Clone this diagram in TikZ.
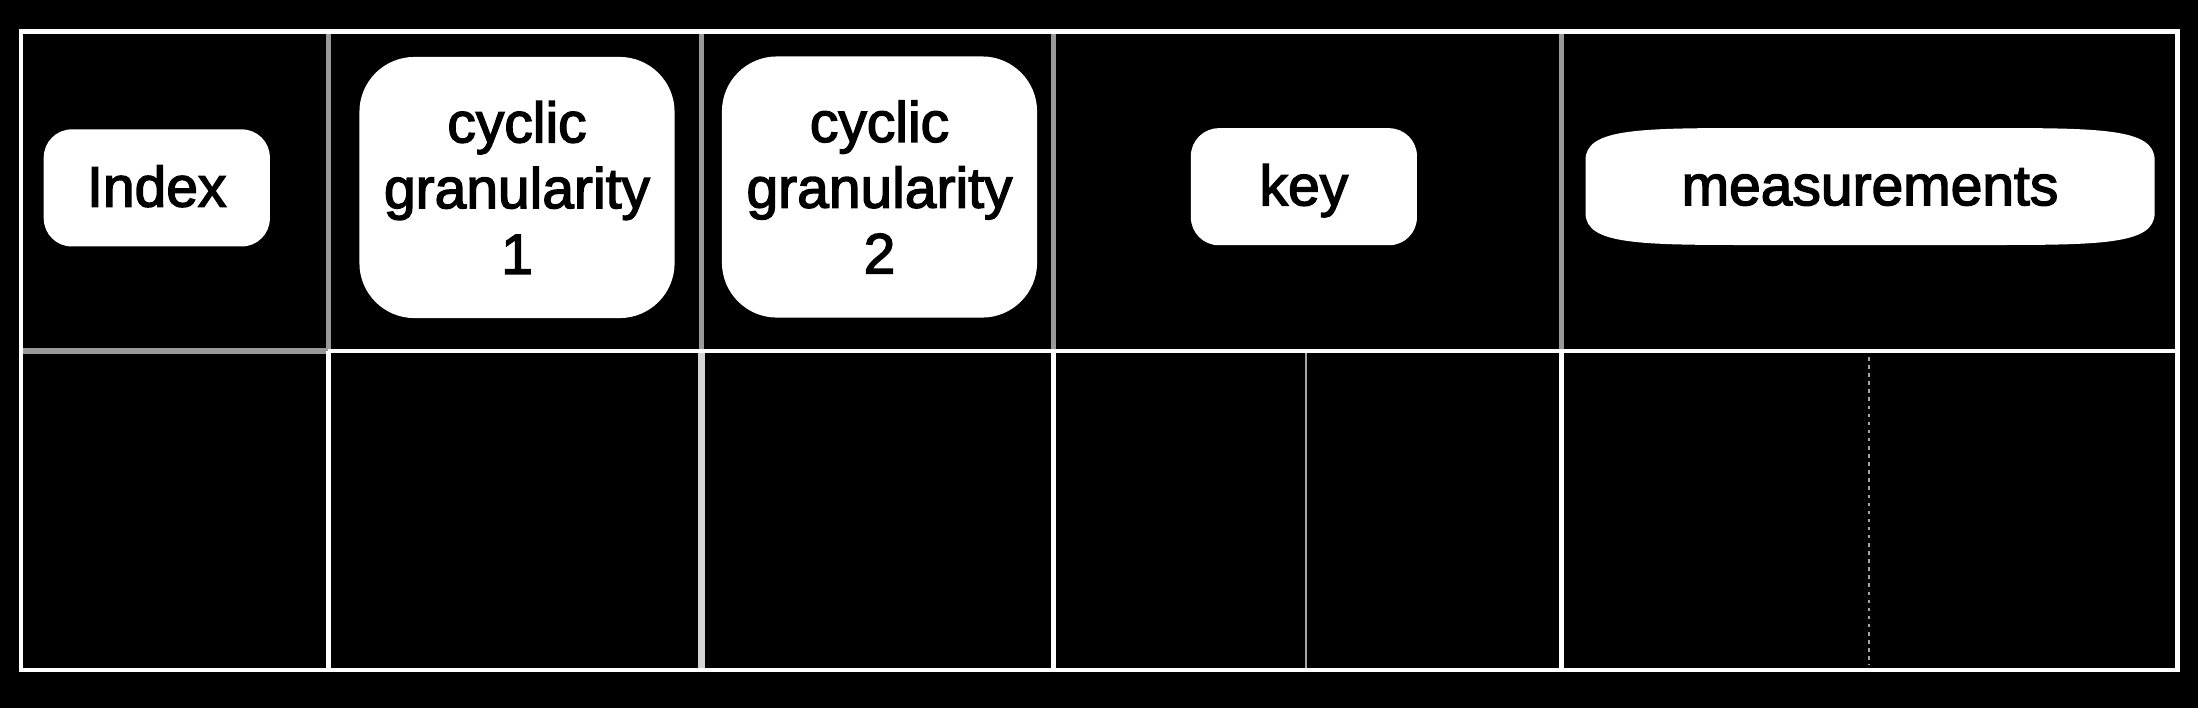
\documentclass[tikz,border=0pt]{standalone}
\usepackage{fontspec}
\setmainfont{Liberation Sans}
\newfontfamily\labelfont{Liberation Sans}[RawFeature={embolden=2.5}]
\usepackage{tikz}
\definecolor{divgray}{HTML}{999999}
\definecolor{palegray}{HTML}{D4D4D4}
\definecolor{subgray}{HTML}{A6A6A6}
\tikzset{
  frameline/.style={white, line width=1.25pt},
  headline/.style={divgray, line width=1.5pt},
  subline/.style={subgray, line width=0.5pt},
  label/.style={fill=white, text=black, inner sep=0pt, font=\labelfont\fontsize{16.2}{18.7}\selectfont},
  smallbox/.style={label, rounded corners=0.28cm, minimum width=2.26cm, minimum height=1.17cm, text height=10.6pt, text depth=0pt},
  bigbox/.style={label, rounded corners=0.55cm, minimum width=3.15cm, minimum height=2.61cm, align=center}
}

\begin{document}
\begin{tikzpicture}[x=0.01cm, y=-0.01cm]
  \fill[black] (0,0) rectangle (2198,708);
  % top row dividers
  \draw[headline] (328.3,31.5)--(328.3,351);
  \draw[headline] (701.5,31.5)--(701.5,351);
  \draw[headline] (1053.5,31.5)--(1053.5,351);
  \draw[headline] (1561.5,31.5)--(1561.5,351);
  \draw[headline] (21,351)--(328.3,351);
  \draw[frameline] (328.3,351)--(2177.5,351);
  % bottom row dividers
  \draw[frameline] (328.3,351)--(328.3,670);
  \draw[palegray, line width=1.8pt] (701.5,353)--(701.5,670);
  \draw[frameline] (1053.5,351)--(1053.5,670);
  \draw[frameline] (1561.5,351)--(1561.5,670);
  \draw[subline] (1305.6,353)--(1305.6,670);
  \draw[subline, dash pattern=on 1pt off 1.3pt] (1868.6,357)--(1868.6,665);
  \draw[frameline] (21,31.5) rectangle (2177.5,670);
  % header labels
  \node[smallbox] (index) at (156.8,187.9) {Index};
  \node[bigbox] (cyc1) at (517,187.5) {cyclic\\granularity\\1};
  \node[bigbox] (cyc2) at (879.5,187) {cyclic\\granularity\\2};
  \node[smallbox] (key) at (1303.9,186.7) {key};
  \fill[white] (1585.5,160) .. controls (1585.5,128) and (1640,128) .. (1760,128) -- (1980,128)
    .. controls (2100,128) and (2154.6,128) .. (2154.6,160) -- (2154.6,213)
    .. controls (2154.6,245) and (2100,245) .. (1980,245) -- (1760,245)
    .. controls (1640,245) and (1585.5,245) .. (1585.5,213) -- cycle;
  \node[smallbox, fill=none] (meas) at (1870,186.5) {measurements};
\end{tikzpicture}
\end{document}
